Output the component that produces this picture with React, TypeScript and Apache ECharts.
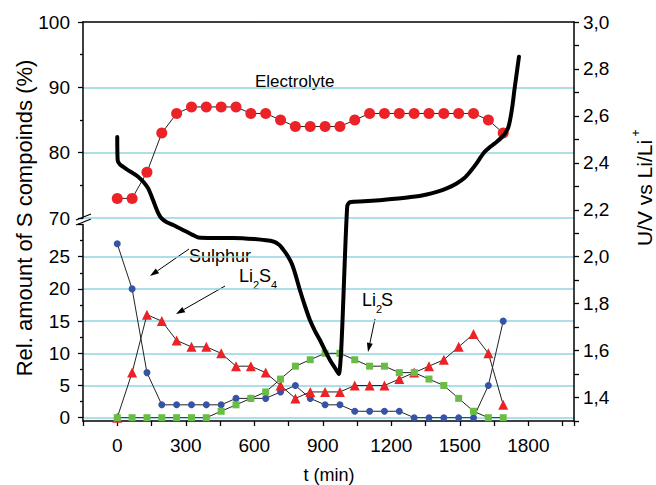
import React, { useEffect, useRef } from 'react';
import * as echarts from 'echarts';

// ---- data ----
const times = [0, 65, 130, 195, 260, 325, 390, 455, 520, 585, 650, 715, 780, 845, 910, 975, 1040, 1105, 1170, 1235, 1300, 1365, 1430, 1495, 1560, 1625, 1690];
const electrolyte = [73, 73, 77, 83, 86, 87, 87, 87, 87, 86, 86, 85, 84, 84, 84, 84, 85, 86, 86, 86, 86, 86, 86, 86, 86, 85, 83];
const sulphur = [27, 20, 7, 2, 2, 2, 2, 2, 3, 3, 3, 4, 5, 3, 2, 2, 1, 1, 1, 1, 0, 0, 0, 0, 0, 5, 15];
const li2s4 = [0, 7, 16, 15, 12, 11, 11, 10, 8, 8, 7, 5, 3, 4, 4, 4, 5, 5, 5, 6, 7, 8, 9, 11, 13, 10, 2];
const li2s = [0, 0, 0, 0, 0, 0, 0, 1, 2, 3, 4, 6, 8, 9, 10, 10, 9, 8, 8, 7, 7, 6, 5, 3, 1, 0, 0];

const voltTime = [0, 2, 12, 26, 45, 70, 90, 107, 122, 136, 150, 165, 180, 194, 215, 245, 275, 304, 330, 355, 420, 508, 600, 683, 710, 727, 745, 764, 780, 800, 822, 844, 866, 888, 910, 932, 952, 970, 1007, 1019, 1080, 1150, 1230, 1296, 1350, 1399, 1445, 1486, 1520, 1545, 1575, 1603, 1632, 1662, 1685, 1698, 1712, 1720, 1730, 1739, 1749, 1759];
const voltage = [2.51, 2.41, 2.393, 2.383, 2.37, 2.355, 2.342, 2.326, 2.31, 2.29, 2.258, 2.22, 2.185, 2.163, 2.148, 2.135, 2.12, 2.106, 2.093, 2.082, 2.08, 2.08, 2.075, 2.065, 2.05, 2.03, 2.005, 1.971, 1.925, 1.857, 1.79, 1.729, 1.683, 1.644, 1.6, 1.559, 1.528, 1.5, 2.215, 2.232, 2.236, 2.241, 2.248, 2.255, 2.264, 2.276, 2.292, 2.312, 2.335, 2.362, 2.4, 2.44, 2.467, 2.49, 2.51, 2.525, 2.55, 2.582, 2.64, 2.71, 2.781, 2.852];

const xLabelStep = 300;

const FONT = 'Liberation Sans, Arial, Helvetica, sans-serif';
const GRID_COLOR = '#93d4e1';
const RED = '#ec2227';
const BLUE = '#3653a5';
const GREEN = '#69bd45';

function zip(xs: number[], ys: number[]) {
  return xs.map((x, i) => [x, ys[i]]);
}

function arrow(x1: number, y1: number, x2: number, y2: number) {
  const dx = x2 - x1, dy = y2 - y1;
  const len = Math.hypot(dx, dy);
  const ux = dx / len, uy = dy / len;
  const L = 9, W = 3;
  const bx = x2 - ux * L, by = y2 - uy * L;
  return [
    { type: 'line', shape: { x1, y1, x2: bx, y2: by }, style: { stroke: '#000', lineWidth: 1 } },
    { type: 'polygon', shape: { points: [[x2, y2], [bx - uy * W, by + ux * W], [bx + uy * W, by - ux * W]] }, style: { fill: '#000' } },
  ];
}

function txt(text: string, x: number, y: number, size: number, extra: any = {}) {
  return {
    type: 'text', x, y, ...extra,
    style: { text, fontSize: size, fontFamily: FONT, fill: '#000', align: extra.align || 'left', verticalAlign: 'middle' },
  };
}

export default function App() {
  const ref = useRef<HTMLDivElement>(null);
  useEffect(() => {
    document.body.style.margin = '0';
    if (!ref.current) return;
    const chart = echarts.init(ref.current, null, { renderer: 'svg' });
    const axisLine = { show: true, onZero: false, lineStyle: { color: '#000', width: 1.5 } };
    const label = { color: '#000', fontSize: 19, fontFamily: FONT };
    const hiddenX = (gi: number) => ({ type: 'value', gridIndex: gi, min: -150, max: 2000, show: false, axisLine: { onZero: false } });

    const graphic: any[] = [
      // axis break marks and corner
      { type: 'line', shape: { x1: 76, y1: 220, x2: 91, y2: 214 }, style: { stroke: '#000', lineWidth: 1.3 } },
      { type: 'line', shape: { x1: 76, y1: 225, x2: 91, y2: 219 }, style: { stroke: '#000', lineWidth: 1.3 } },
      { type: 'line', shape: { x1: 83, y1: 417, x2: 83, y2: 421.5 }, style: { stroke: '#000', lineWidth: 1.5 } },
      // titles
      txt('Rel. amount of S compoinds (%)', 24, 218, 22, { rotation: Math.PI / 2, align: 'center' }),
      txt('U/V vs Li/Li', 644, 193, 21, { rotation: Math.PI / 2, align: 'center' }),
      txt('+', 636, 133, 12, { rotation: Math.PI / 2, align: 'center' }),
      txt('t (min)', 329, 475, 18, { align: 'center' }),
      // annotations
      txt('Electrolyte', 255, 81, 17),
      txt('Sulphur', 189, 256, 18),
      txt('Li', 239, 275.5, 18),
      txt('2', 253, 284.5, 11),
      txt('S', 259, 275.5, 18),
      txt('4', 271, 284.5, 11),
      txt('Li', 362, 300, 18),
      txt('2', 376, 309, 11),
      txt('S', 381, 300, 18),
      ...arrow(189, 249, 150, 276),
      ...arrow(225, 286, 176, 314),
      ...arrow(375, 319, 368, 352),
    ];

    chart.setOption({
      animation: false,
      textStyle: { fontFamily: FONT },
      grid: [
        { left: 83, right: 82, top: 22, height: 196 },
        { left: 83, right: 82, top: 224.5, height: 193.2 },
        { left: 83, right: 82, top: 22, height: 399 },
      ],
      xAxis: [
        hiddenX(0),
        hiddenX(1),
        {
          type: 'value', gridIndex: 2, position: 'bottom', min: -150, max: 2000, interval: 150,
          axisLine, axisTick: { show: true, inside: false, length: 5, lineStyle: { color: '#000', width: 1.3 } },
          axisLabel: { ...label, margin: 15, formatter: (v: number) => (v >= 0 && v % xLabelStep === 0 ? String(v) : '') },
          splitLine: { show: false },
        },
        {
          type: 'value', gridIndex: 2, position: 'top', min: -150, max: 2000,
          axisLine, axisTick: { show: false }, axisLabel: { show: false }, splitLine: { show: false },
        },
      ],
      yAxis: [
        {
          type: 'value', gridIndex: 0, position: 'left', min: 70, max: 100, interval: 10,
          axisLine, axisTick: { show: true, length: 5, lineStyle: { color: '#000', width: 1.3 } },
          minorTick: { show: true, splitNumber: 2, length: 3, lineStyle: { color: '#000', width: 1.3 } },
          axisLabel: { ...label, margin: 13 },
          splitLine: { show: true, showMaxLine: false, lineStyle: { color: GRID_COLOR, width: 1.5 } },
        },
        {
          type: 'value', gridIndex: 1, position: 'left', min: 0, max: 30, interval: 5,
          axisLine, axisTick: { show: true, length: 5, lineStyle: { color: '#000', width: 1.3 } },
          minorTick: { show: true, splitNumber: 2, length: 3, lineStyle: { color: '#000', width: 1.3 } },
          axisLabel: { ...label, margin: 13, formatter: (v: number) => (v < 30 ? String(v) : '') },
          splitLine: { show: true, showMaxLine: false, lineStyle: { color: GRID_COLOR, width: 1.5 } },
        },
        {
          type: 'value', gridIndex: 2, position: 'right', min: 1.3, max: 3.0, interval: 0.1,
          axisLine, axisTick: { show: true, length: 5, lineStyle: { color: '#000', width: 1.3 } },
          axisLabel: {
            ...label, margin: 9,
            formatter: (v: number) => (Math.round(v * 10) % 2 === 0 ? v.toFixed(1).replace('.', ',') : ''),
          },
          splitLine: { show: false },
        },
      ],
      series: [
        {
          name: 'Electrolyte', type: 'line', xAxisIndex: 0, yAxisIndex: 0, data: zip(times, electrolyte),
          symbol: 'circle', symbolSize: 11, itemStyle: { color: RED },
          lineStyle: { color: '#222', width: 1 }, z: 3,
        },
        {
          name: 'Sulphur', type: 'line', xAxisIndex: 1, yAxisIndex: 1, data: zip(times, sulphur),
          symbol: 'circle', symbolSize: 7, itemStyle: { color: BLUE },
          lineStyle: { color: '#222', width: 1 }, z: 3,
        },
        {
          name: 'Li2S4', type: 'line', xAxisIndex: 1, yAxisIndex: 1, data: zip(times, li2s4),
          symbol: 'triangle', symbolSize: 10, itemStyle: { color: RED },
          lineStyle: { color: '#222', width: 1 }, z: 3,
        },
        {
          name: 'Li2S', type: 'line', xAxisIndex: 1, yAxisIndex: 1, data: zip(times, li2s),
          symbol: 'rect', symbolSize: 7, itemStyle: { color: GREEN },
          lineStyle: { color: '#222', width: 1 }, z: 3,
        },
        {
          name: 'U', type: 'line', xAxisIndex: 2, yAxisIndex: 2, data: zip(voltTime, voltage),
          showSymbol: false, symbol: 'none', smooth: 0.25,
          lineStyle: { color: '#000', width: 4, join: 'round', cap: 'round' },
          z: 5,
        },
      ],
      graphic,
    });
    return () => chart.dispose();
  }, []);
  return <div ref={ref} style={{ width: 656, height: 485 }} />;
}
